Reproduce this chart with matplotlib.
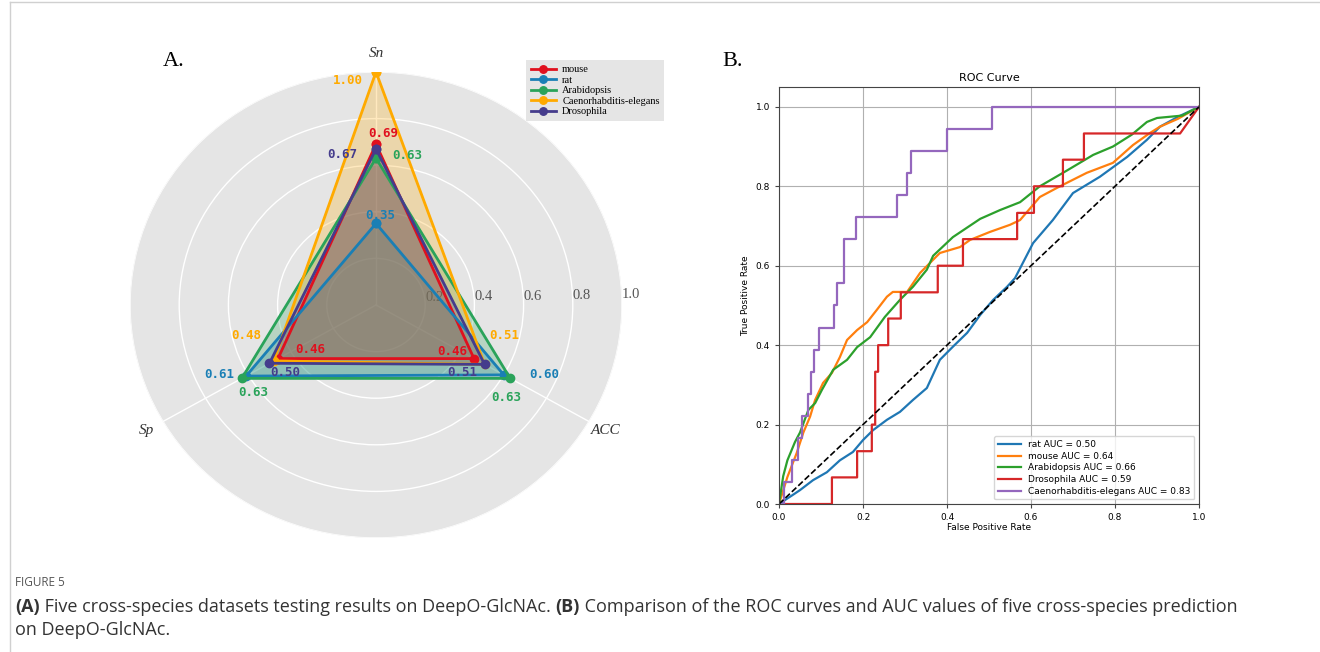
import numpy as np
import matplotlib
matplotlib.use('Agg')
import matplotlib.pyplot as plt
from matplotlib.lines import Line2D

# ---------------- data: radar (panel A) ----------------
metrics = ['Sn', 'Sp', 'ACC']
species = ['mouse', 'rat', 'Arabidopsis', 'Caenorhabditis-elegans', 'Drosophila']
mouse_vals = [0.69, 0.46, 0.46]
rat_vals = [0.35, 0.61, 0.60]
arab_vals = [0.63, 0.63, 0.63]
caen_vals = [1.00, 0.48, 0.51]
dros_vals = [0.67, 0.50, 0.51]
radar_vals = [mouse_vals, rat_vals, arab_vals, caen_vals, dros_vals]
radar_colors = ['#e0101e', '#1a7fb5', '#2aa35a', '#ffaa00', '#453c8c']
r_ticks = [0.2, 0.4, 0.6, 0.8, 1.0]

# label offsets (pixels) for every value text, per species and metric
label_offsets = [
    [(7, 11), (32, 9), (-22, 7)],
    [(4, 8), (-27, 2), (40, 0)],
    [(31, 3), (11, -14), (-4, -19)],
    [(-28, -8), (-27, 25), (20, 29)],
    [(-34, -6), (16, -9), (-22, -8)],
]

# ---------------- data: ROC (panel B) ----------------
rat_fpr = [0, 0.033, 0.05, 0.081, 0.114, 0.145, 0.176, 0.2, 0.224, 0.257, 0.288, 0.319,
           0.352, 0.383, 0.414, 0.448, 0.479, 0.51, 0.543, 0.562, 0.605, 0.652, 0.70,
           0.764, 0.829, 0.876, 0.907, 0.95, 1.0]
rat_tpr = [0, 0.023, 0.035, 0.06, 0.08, 0.11, 0.131, 0.161, 0.186, 0.212, 0.232, 0.262,
           0.292, 0.363, 0.396, 0.431, 0.476, 0.514, 0.547, 0.569, 0.657, 0.715, 0.783,
           0.824, 0.874, 0.917, 0.95, 0.975, 1.0]

mouse_fpr = [0, 0.02, 0.042, 0.058, 0.074, 0.086, 0.105, 0.126, 0.145, 0.162, 0.186, 0.21,
             0.233, 0.257, 0.271, 0.305, 0.336, 0.367, 0.383, 0.431, 0.455, 0.502, 0.55,
             0.574, 0.621, 0.669, 0.733, 0.795, 0.843, 0.883, 0.907, 0.95, 1.0]
mouse_tpr = [0, 0.068, 0.128, 0.18, 0.22, 0.262, 0.305, 0.33, 0.37, 0.413, 0.438, 0.458,
             0.489, 0.522, 0.534, 0.534, 0.582, 0.615, 0.632, 0.647, 0.665, 0.685, 0.703,
             0.715, 0.773, 0.80, 0.834, 0.859, 0.904, 0.934, 0.95, 0.97, 1.0]

arab_fpr = [0, 0.01, 0.02, 0.038, 0.05, 0.07, 0.086, 0.102, 0.129, 0.162, 0.186, 0.217,
            0.252, 0.288, 0.319, 0.352, 0.367, 0.414, 0.479, 0.526, 0.574, 0.621, 0.686,
            0.748, 0.795, 0.84, 0.876, 0.9, 0.96, 1.0]
arab_tpr = [0, 0.07, 0.11, 0.156, 0.18, 0.237, 0.254, 0.287, 0.338, 0.363, 0.395, 0.42,
            0.471, 0.514, 0.547, 0.59, 0.625, 0.672, 0.718, 0.74, 0.76, 0.80, 0.84,
            0.879, 0.90, 0.93, 0.962, 0.972, 0.978, 1.0]

dros_fpr = [0, 0.126, 0.126, 0.186, 0.186, 0.221, 0.221, 0.229, 0.229, 0.236, 0.236,
            0.26, 0.26, 0.29, 0.29, 0.378, 0.378, 0.438, 0.438, 0.567, 0.567, 0.607,
            0.607, 0.676, 0.676, 0.726, 0.726, 0.955, 1.0]
dros_tpr = [0, 0, 0.067, 0.067, 0.133, 0.133, 0.2, 0.2, 0.333, 0.333, 0.4,
            0.4, 0.467, 0.467, 0.533, 0.533, 0.6, 0.6, 0.667, 0.667, 0.733, 0.733,
            0.8, 0.8, 0.867, 0.867, 0.933, 0.933, 1.0]

caen_fpr = [0, 0.012, 0.012, 0.03, 0.03, 0.045, 0.045, 0.055, 0.055, 0.069, 0.069, 0.076,
            0.076, 0.083, 0.083, 0.095, 0.095, 0.131, 0.131, 0.138, 0.138, 0.155, 0.155,
            0.183, 0.183, 0.281, 0.281, 0.305, 0.305, 0.314, 0.314, 0.40, 0.40, 0.507,
            0.507, 1.0]
caen_tpr = [0, 0, 0.056, 0.056, 0.111, 0.111, 0.167, 0.167, 0.222, 0.222, 0.278, 0.278,
            0.333, 0.333, 0.389, 0.389, 0.444, 0.444, 0.5, 0.5, 0.556, 0.556, 0.667,
            0.667, 0.722, 0.722, 0.778, 0.778, 0.833, 0.833, 0.889, 0.889, 0.944, 0.944,
            1.0, 1.0]

roc_names = ['rat', 'mouse', 'Arabidopsis', 'Drosophila', 'Caenorhabditis-elegans']
roc_auc = [0.50, 0.64, 0.66, 0.59, 0.83]
roc_fpr = [rat_fpr, mouse_fpr, arab_fpr, dros_fpr, caen_fpr]
roc_tpr = [rat_tpr, mouse_tpr, arab_tpr, dros_tpr, caen_tpr]
roc_colors = ['#1f77b4', '#ff7f0e', '#2ca02c', '#d62728', '#9467bd']
roc_ticks = [0.0, 0.2, 0.4, 0.6, 0.8, 1.0]

W, H = 1320, 652
fig = plt.figure(figsize=(W / 100, H / 100), dpi=100)

# ---------------- panel A: radar ----------------
ax = fig.add_axes([130 / W, 1 - 538 / H, 492 / W, 466 / H], projection='polar')
ax.set_aspect('auto')
ax.set_facecolor('#e5e5e5')
ax.set_axisbelow(True)
ax.set_theta_offset(np.pi / 2)
angles = np.linspace(0, 2 * np.pi, len(metrics), endpoint=False)
ax.set_ylim(0, 1.0)
ax.set_thetagrids(np.degrees(angles), metrics, fontfamily='Liberation Serif',
                  fontstyle='italic', fontsize=11, color='#333333')
ax.tick_params(axis='x', pad=3)
# theta offset is 90 deg, so 271 here puts the labels just above the horizontal
ax.set_rgrids(r_ticks, [f'{t:.1f}' for t in r_ticks], angle=271,
              fontfamily='Liberation Serif', fontsize=10.5, color='#555555')
ax.grid(color='white', lw=1.0)
ax.spines['polar'].set_visible(False)

closed = np.concatenate([angles, angles[:1]])
for name, vals, col, offs in zip(species, radar_vals, radar_colors, label_offsets):
    v = vals + vals[:1]
    ax.plot(closed, v, color=col, lw=2, marker='o', ms=6, label=name)
    ax.fill(closed, v, color=col, alpha=0.25)
    for a, val, off in zip(angles, vals, offs):
        ax.annotate(f'{val:.2f}', (a, val), xytext=off, textcoords='offset pixels',
                    ha='center', va='center', color=col, fontsize=9,
                    fontfamily='DejaVu Sans Mono', fontweight='bold')

for lab in ax.get_yticklabels():
    lab.set_ha('left')
    lab.set_va('bottom')

leg = ax.legend(loc='upper left', bbox_to_anchor=(521 / W, 1 - 55 / H),
                bbox_transform=fig.transFigure, prop={'family': 'Liberation Serif', 'size': 7.5},
                facecolor='#e5e5e5', edgecolor='none', framealpha=1, fancybox=False,
                labelspacing=0.12, handlelength=2.4, borderpad=0.45, handletextpad=0.6,
                markerscale=0.9)

fig.text(163 / W, 1 - 62 / H, 'A.', fontfamily='Liberation Serif', fontsize=16, va='center')
fig.text(722 / W, 1 - 62 / H, 'B.', fontfamily='Liberation Serif', fontsize=16, va='center')

# ---------------- panel B: ROC ----------------
bx = fig.add_axes([779 / W, 1 - 504 / H, 420 / W, 417 / H])
for name, auc, fp, tp, col in zip(roc_names, roc_auc, roc_fpr, roc_tpr, roc_colors):
    bx.plot(fp, tp, color=col, lw=1.6, label=f'{name} AUC = {auc:.2f}')
bx.plot([0, 1], [0, 1], 'k--', lw=1.2)
bx.set_xlim(0, 1)
bx.set_ylim(0, 1.05)
bx.set_xticks(roc_ticks)
bx.set_yticks(roc_ticks)
bx.tick_params(labelsize=6.5, length=3, color='#444444')
bx.grid(True, color='#b0b0b0', lw=0.8)
bx.set_xlabel('False Positive Rate', fontsize=6.5, labelpad=1)
bx.set_ylabel('True Positive Rate', fontsize=6.5, labelpad=4)
bx.set_title('ROC Curve', fontsize=8, pad=4)
for s in bx.spines.values():
    s.set_color('#444444')
    s.set_linewidth(0.8)
bx.legend(loc='lower right', fontsize=6.5, handlelength=2.6, labelspacing=0.3,
          framealpha=0.8)

# ---------------- caption ----------------
cap = fig.add_axes([0, 0, 1, 1], zorder=-1)
cap.axis('off')
fig.add_artist(Line2D([10 / W, 10 / W], [0, 1 - 2 / H], color='#d0d0d0', lw=1))
fig.add_artist(Line2D([10 / W, 1], [1 - 2 / H, 1 - 2 / H], color='#d0d0d0', lw=1))

fig.text(15 / W, 1 - 582 / H, 'FIGURE 5', fontfamily='Open Sans', fontsize=8.5,
         color='#555555', va='center')
cap_font = dict(fontfamily='Open Sans', fontsize=13, color='#333333', va='bottom')
t1 = cap.text(15 / W, 1 - 616 / H, '(A)', fontweight='bold', **cap_font)
t2 = cap.annotate(' Five cross-species datasets testing results on DeepO-GlcNAc. ',
                  xy=(1, 0), xycoords=t1, **cap_font)
t3 = cap.annotate('(B)', xy=(1, 0), xycoords=t2, fontweight='bold', **cap_font)
t4 = cap.annotate(' Comparison of the ROC curves and AUC values of five cross-species prediction',
                  xy=(1, 0), xycoords=t3, **cap_font)
cap.text(15 / W, 1 - 639 / H, 'on DeepO-GlcNAc.', **cap_font)

fig.savefig('out.png', dpi=100)
